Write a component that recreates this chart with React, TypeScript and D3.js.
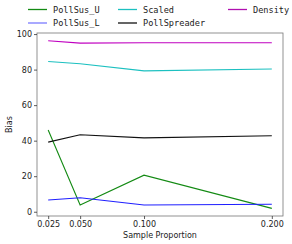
import React, { useRef, useEffect } from "react";
import * as d3 from "d3";

const proportions = [0.025, 0.05, 0.1, 0.2];
const xTicks = [0.025, 0.05, 0.1, 0.2];
const yTicks = [0, 20, 40, 60, 80, 100];

const pollSusU = [46, 3.8, 20.6, 1.9];
const pollSusL = [6.6, 7.9, 3.8, 4.2];
const scaled = [84.6, 83.3, 79.3, 80.3];
const pollSpreader = [39.2, 43.3, 41.6, 42.8];
const density = [96.2, 94.9, 95.1, 95.1];

const seriesNames = ["PollSus_U", "PollSus_L", "Scaled", "PollSpreader", "Density"];
const seriesValues = [pollSusU, pollSusL, scaled, pollSpreader, density];
const seriesColors = ["#138a13", "#1f1fff", "#1cc0c0", "#111111", "#c000c0"];
const legendColors = ["#138a13", "#7a7aff", "#1cc0c0", "#111111", "#b010b0"];

const App: React.FC = () => {
  const svgRef = useRef<SVGSVGElement | null>(null);

  useEffect(() => {
    if (!svgRef.current) return;
    const svg = d3.select(svgRef.current);
    svg.selectAll("*").remove();

    const width = 292;
    const height = 244;
    const margin = { top: 33, right: 9, bottom: 28, left: 37 };

    const x = d3
      .scaleLinear()
      .domain([0.01625, 0.20875])
      .range([margin.left, width - margin.right]);
    const y = d3
      .scaleLinear()
      .domain([-2.4, 100.6])
      .range([height - margin.bottom, margin.top]);

    const font = "'DejaVu Sans', sans-serif";

    // lines
    const line = d3
      .line<number>()
      .x((_, i) => x(proportions[i]))
      .y((d) => y(d));

    seriesValues.forEach((vals, k) => {
      svg
        .append("path")
        .datum(vals)
        .attr("d", line)
        .attr("fill", "none")
        .attr("stroke", seriesColors[k])
        .attr("stroke-width", 1.1);
    });

    // frame
    svg
      .append("rect")
      .attr("x", margin.left)
      .attr("y", margin.top)
      .attr("width", width - margin.left - margin.right)
      .attr("height", height - margin.top - margin.bottom)
      .attr("fill", "none")
      .attr("stroke", "#777")
      .attr("stroke-width", 0.8);

    // x axis
    const xAxis = svg
      .append("g")
      .attr("transform", `translate(0,${height - margin.bottom})`)
      .call(
        d3
          .axisBottom(x)
          .tickValues(xTicks)
          .tickSize(3)
          .tickPadding(2)
          .tickFormat((d) => d3.format(".3f")(d as number))
      );
    xAxis.select(".domain").remove();
    xAxis.selectAll(".tick line").attr("stroke", "#333").attr("stroke-width", 0.8);
    xAxis
      .selectAll("text")
      .style("font-family", font)
      .style("font-size", "8px")
      .attr("fill", "#222");

    // y axis
    const yAxis = svg
      .append("g")
      .attr("transform", `translate(${margin.left},0)`)
      .call(d3.axisLeft(y).tickValues(yTicks).tickSize(3).tickPadding(2));
    yAxis.select(".domain").remove();
    yAxis.selectAll(".tick line").attr("stroke", "#333").attr("stroke-width", 0.8);
    yAxis
      .selectAll("text")
      .style("font-family", font)
      .style("font-size", "8px")
      .attr("fill", "#222");

    // axis titles
    svg
      .append("text")
      .attr("x", (margin.left + width - margin.right) / 2)
      .attr("y", 238)
      .attr("text-anchor", "middle")
      .style("font-family", font)
      .style("font-size", "8px")
      .attr("fill", "#222")
      .text("Sample Proportion");

    svg
      .append("text")
      .attr("transform", `translate(12,${(margin.top + height - margin.bottom) / 2}) rotate(-90)`)
      .attr("text-anchor", "middle")
      .style("font-family", font)
      .style("font-size", "8px")
      .attr("fill", "#222")
      .text("Bias");

    // legend, 3 columns, column-major
    const colX = [28, 118, 228];
    const rowY = [9.5, 23];
    seriesNames.forEach((name, k) => {
      const col = Math.floor(k / 2);
      const row = k % 2;
      const g = svg.append("g").attr("transform", `translate(${colX[col]},${rowY[row]})`);
      g.append("line")
        .attr("x1", 0)
        .attr("x2", 19)
        .attr("y1", 0)
        .attr("y2", 0)
        .attr("stroke", legendColors[k])
        .attr("stroke-width", 1.3);
      g.append("text")
        .attr("x", 25)
        .attr("y", 3)
        .style("font-family", "'DejaVu Sans Mono', monospace")
        .style("font-size", "8.6px")
        .attr("fill", "#222")
        .text(name);
    });
  }, []);

  return (
    <svg
      ref={svgRef}
      width={292}
      height={244}
      style={{ position: "absolute", left: 0, top: 0, background: "#fff" }}
    />
  );
};

export default App;
